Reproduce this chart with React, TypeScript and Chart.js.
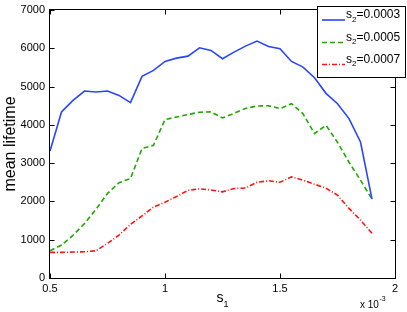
import { useEffect, useRef } from 'react';
import { Chart, registerables } from 'chart.js';

Chart.register(...registerables);

// s1 values (in units of 1e-3)
const S1 = [
  0.5, 0.55, 0.6, 0.65, 0.7, 0.75, 0.8, 0.85, 0.9, 0.95,
  1.0, 1.05, 1.1, 1.15, 1.2, 1.25, 1.3, 1.35, 1.4, 1.45,
  1.5, 1.55, 1.6, 1.65, 1.7, 1.75, 1.8, 1.85, 1.9,
];

const S2_LABELS = ['0.0003', '0.0005', '0.0007'];

const LIFETIME_S2_0003 = [
  3318, 4335, 4640, 4883, 4857, 4883, 4770, 4580, 5266, 5422,
  5657, 5743, 5795, 6014, 5944, 5727, 5900, 6057, 6187, 6048,
  5988, 5657, 5508, 5232, 4823, 4553, 4163, 3553, 2060,
];

const LIFETIME_S2_0005 = [
  712, 860, 1115, 1420, 1795, 2210, 2490, 2600, 3381, 3467,
  4137, 4205, 4270, 4330, 4340, 4180, 4300, 4430, 4493, 4500,
  4424, 4554, 4290, 3772, 3988, 3545, 3024, 2555, 2060,
];

const LIFETIME_S2_0007 = [
  670, 670, 678, 686, 712, 904, 1121, 1400, 1620, 1850,
  1980, 2130, 2290, 2330, 2300, 2250, 2338, 2350, 2500, 2540,
  2500, 2641, 2555, 2450, 2346, 2164, 1817, 1512, 1165,
];

const X_TICKS = [0.5, 1, 1.5, 2];
const Y_TICKS = [0, 1000, 2000, 3000, 4000, 5000, 6000, 7000];

const FONT = '"Liberation Sans", Arial, Helvetica, sans-serif';

function drawSubText(
  ctx: CanvasRenderingContext2D,
  x: number,
  baseline: number,
  main: string,
  sub: string,
  rest: string,
  mainSize: number,
  subSize: number,
  drop: number,
) {
  ctx.textAlign = 'left';
  ctx.textBaseline = 'alphabetic';
  ctx.font = `${mainSize}px ${FONT}`;
  ctx.fillText(main, x, baseline);
  let cx = x + ctx.measureText(main).width;
  ctx.font = `${subSize}px ${FONT}`;
  ctx.fillText(sub, cx, baseline + drop);
  cx += ctx.measureText(sub).width;
  if (rest) {
    ctx.font = `${mainSize}px ${FONT}`;
    ctx.fillText(rest, cx, baseline);
    cx += ctx.measureText(rest).width;
  }
  return cx;
}

const decorations = {
  id: 'decorations',
  afterDraw(chart: any) {
    const { ctx, chartArea: a, scales } = chart;
    const xs = scales.x;
    const ys = scales.y;
    ctx.save();

    // frame
    ctx.strokeStyle = '#000';
    ctx.lineWidth = 1;
    ctx.setLineDash([]);
    const L = a.left - 0.5, R = a.right + 0.5, T = a.top - 0.5, B = a.bottom + 0.5;
    ctx.strokeRect(L, T, R - L, B - T);

    // inward ticks
    const tl = 5;
    ctx.beginPath();
    for (const v of Y_TICKS) {
      const py = Math.round(ys.getPixelForValue(v)) + 0.5;
      ctx.moveTo(L, py); ctx.lineTo(L + tl, py);
      ctx.moveTo(R, py); ctx.lineTo(R - tl, py);
    }
    for (const v of X_TICKS) {
      const px = Math.round(xs.getPixelForValue(v)) + 0.5;
      ctx.moveTo(px, B); ctx.lineTo(px, B - tl);
      ctx.moveTo(px, T); ctx.lineTo(px, T + tl);
    }
    ctx.stroke();

    ctx.fillStyle = '#000';

    // y title
    ctx.save();
    ctx.translate(15, (a.top + a.bottom) / 2);
    ctx.rotate(-Math.PI / 2);
    ctx.font = `16px ${FONT}`;
    ctx.textAlign = 'center';
    ctx.textBaseline = 'alphabetic';
    ctx.fillText('mean lifetime', 0, 0);
    ctx.restore();

    // x title s1
    {
      ctx.font = `14px ${FONT}`;
      const w1 = ctx.measureText('s').width;
      ctx.font = `9px ${FONT}`;
      const w2 = ctx.measureText('1').width;
      const cx = (a.left + a.right) / 2;
      drawSubText(ctx, cx - (w1 + w2) / 2, 302, 's', '1', '', 14, 9, 5);
    }

    // multiplier x 10^-3
    {
      ctx.textAlign = 'left';
      ctx.textBaseline = 'alphabetic';
      ctx.font = `10px ${FONT}`;
      const t = 'x 10';
      ctx.fillText(t, 360, 308);
      const w = ctx.measureText(t).width;
      ctx.font = `7px ${FONT}`;
      ctx.fillText('-3', 360 + w + 0.5, 301);
    }

    // legend
    {
      const bx = 317.5, by = 6.5, bw = 88, bh = 71;
      ctx.fillStyle = '#fff';
      ctx.fillRect(bx, by, bw, bh);
      ctx.strokeStyle = '#000';
      ctx.lineWidth = 1;
      ctx.setLineDash([]);
      ctx.strokeRect(bx, by, bw, bh);
      const rows = [20, 42.5, 64.5];
      chart.data.datasets.forEach((ds: any, i: number) => {
        const ly = rows[i];
        ctx.strokeStyle = ds.borderColor;
        ctx.lineWidth = ds.borderWidth;
        ctx.setLineDash(ds.borderDash || []);
        ctx.beginPath();
        ctx.moveTo(322, ly);
        ctx.lineTo(345, ly);
        ctx.stroke();
        ctx.setLineDash([]);
        ctx.fillStyle = '#000';
        drawSubText(ctx, 346, ly - 2, 's', '2', '=' + ds.label, 12, 8, 3.5);
      });
    }

    ctx.restore();
  },
};

export default function App() {
  const ref = useRef<HTMLCanvasElement | null>(null);

  useEffect(() => {
    if (!ref.current) return;
    const toPts = (vals: number[]) => S1.map((x, i) => ({ x, y: vals[i] }));
    const chart = new Chart(ref.current, {
      type: 'line',
      data: {
        datasets: [
          {
            label: S2_LABELS[0],
            data: toPts(LIFETIME_S2_0003),
            borderColor: 'rgb(40,70,255)',
            borderWidth: 1.6,
            borderDash: [],
            pointRadius: 0,
            tension: 0,
            fill: false,
          },
          {
            label: S2_LABELS[1],
            data: toPts(LIFETIME_S2_0005),
            borderColor: 'rgb(30,170,0)',
            borderWidth: 1.6,
            borderDash: [5, 3],
            pointRadius: 0,
            tension: 0,
            fill: false,
          },
          {
            label: S2_LABELS[2],
            data: toPts(LIFETIME_S2_0007),
            borderColor: 'rgb(255,20,20)',
            borderWidth: 1.6,
            borderDash: [5, 2, 1, 2],
            pointRadius: 0,
            tension: 0,
            fill: false,
          },
        ],
      },
      options: {
        responsive: false,
        animation: false,
        events: [],
        layout: { padding: { top: 10, right: 12, left: 0, bottom: 0 } },
        plugins: {
          legend: { display: false },
          tooltip: { enabled: false },
        },
        scales: {
          x: {
            type: 'linear',
            min: 0.5,
            max: 2,
            afterFit: (s: any) => {
              s.height = 34;
              s.paddingLeft = 0;
              s.paddingRight = 0;
            },
            grid: { display: false, drawTicks: false },
            border: { display: false },
            ticks: {
              stepSize: 0.5,
              padding: 4,
              color: '#000',
              maxRotation: 0,
              autoSkip: false,
              font: { family: FONT, size: 11 },
              callback: (v: any) => String(v),
            },
          },
          y: {
            min: 0,
            max: 7000,
            afterFit: (s: any) => {
              s.width = 50;
              s.paddingTop = 0;
              s.paddingBottom = 0;
            },
            grid: { display: false, drawTicks: false },
            border: { display: false },
            ticks: {
              stepSize: 1000,
              padding: 5,
              color: '#000',
              font: { family: FONT, size: 11 },
              callback: (v: any) => String(v),
            },
          },
        },
      },
      plugins: [decorations],
    });
    return () => chart.destroy();
  }, []);

  return (
    <canvas
      ref={ref}
      width={407}
      height={312}
      style={{ position: 'absolute', left: 0, top: 0, display: 'block', width: 407, height: 312 }}
    />
  );
}
